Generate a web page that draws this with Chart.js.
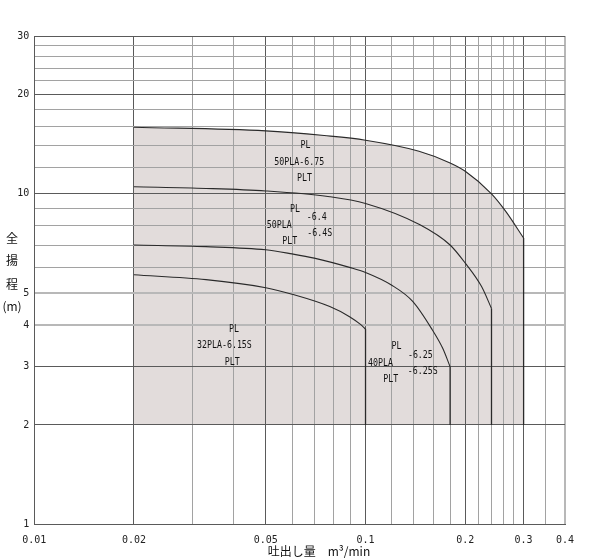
<!DOCTYPE html>
<html>
<head>
<meta charset="utf-8">
<script src="https://cdn.jsdelivr.net/npm/chart.js@4.4.1/dist/chart.umd.min.js"></script>
<style>
  html, body { margin:0; background:#fff; }
  canvas { display:block; }
</style>
</head>
<body>
<canvas id="chart" width="600" height="560"></canvas>
<script>
// grid / tick values (log-log)
const xGrid = [0.01, 0.02, 0.03, 0.04, 0.05, 0.06, 0.07, 0.08, 0.09, 0.1, 0.12, 0.14, 0.16, 0.18, 0.2, 0.22, 0.24, 0.26, 0.28, 0.3, 0.35, 0.4];
const xLabels = [0.01, 0.02, 0.05, 0.1, 0.2, 0.3, 0.4];
const xMajor = [0.02, 0.05, 0.1, 0.2, 0.3];
const yGrid = [1, 2, 3, 4, 5, 6, 7, 8, 9, 10, 12, 14, 16, 18, 20, 22, 24, 26, 28, 30];
const yLabels = [1, 2, 3, 4, 5, 10, 20, 30];
const yMajor = [2, 3, 10, 20, 30];
const yAccent = [4, 5];

// pump curves: flow (m3/min) / head (m)
const q675 = [0.02, 0.05, 0.075, 0.1, 0.145, 0.18, 0.2, 0.24, 0.265, 0.3];
const h675 = [15.9, 15.5, 15.0, 14.52, 13.45, 12.4, 11.7, 10.0, 8.85, 7.35];
const q64 = [0.02, 0.033, 0.05, 0.078, 0.1, 0.146, 0.18, 0.2, 0.224, 0.24];
const h64 = [10.5, 10.38, 10.2, 9.8, 9.35, 8.06, 7.0, 6.17, 5.24, 4.5];
const q625 = [0.02, 0.033, 0.05, 0.06, 0.07, 0.09, 0.1, 0.12, 0.139, 0.159, 0.171, 0.18];
const h625 = [7.0, 6.92, 6.77, 6.58, 6.39, 5.98, 5.78, 5.29, 4.72, 3.88, 3.41, 3.0];
const q615 = [0.02, 0.033, 0.05, 0.06, 0.078, 0.0895, 0.0968, 0.1];
const h615 = [5.69, 5.5, 5.2, 4.97, 4.56, 4.25, 4.02, 3.9];
const baseHead = 2;

// model labels [text, flow, head]
const notes = [
  ['PL', 0.0659, 14.0], ['50PLA-6.75', 0.0631, 12.47], ['PLT', 0.0654, 11.15],
  ['PL', 0.0613, 8.99], ['-6.4', 0.0712, 8.48], ['50PLA', 0.0549, 8.04], ['-6.4S', 0.0727, 7.61], ['PLT', 0.0591, 7.21],
  ['PL', 0.0401, 3.9], ['32PLA-6.15S', 0.0375, 3.48], ['PLT', 0.0396, 3.1],
  ['PL', 0.1241, 3.45], ['-6.25', 0.1464, 3.26], ['40PLA', 0.1109, 3.07], ['-6.25S', 0.1489, 2.9], ['PLT', 0.1192, 2.75]
];

const pts = (qs, hs) => qs.map((q, i) => ({ x: q, y: hs[i] }));
const drop = (qs, hs) => [{ x: qs[qs.length-1], y: hs[hs.length-1] }, { x: qs[qs.length-1], y: baseHead }];

const curve = (data, extra) => Object.assign({ data, borderColor:'#2a2a2a', borderWidth:1.1, pointRadius:0, cubicInterpolationMode:'monotone', fill:false }, extra||{});
const vline = data => ({ data, borderColor:'#2a2a2a', borderWidth:1.3, pointRadius:0, tension:0, fill:false });

const labelPlugin = {
  id: 'labels',
  afterDatasetsDraw(chart){
    const { ctx, scales:{x, y} } = chart;
    ctx.save();
    ctx.fillStyle = '#111';
    ctx.font = '10.5px "DejaVu Sans Mono"';
    ctx.textAlign = 'center'; ctx.textBaseline = 'middle';
    notes.forEach(([t, q, h]) => {
      ctx.save();
      ctx.translate(x.getPixelForValue(q), y.getPixelForValue(h));
      ctx.scale(0.79, 1);
      ctx.fillText(t, 0, 0);
      ctx.restore();
    });
    ctx.restore();
  },
  afterDraw(chart){
    const { ctx } = chart;
    ctx.save();
    ctx.fillStyle = '#111';
    ctx.textAlign = 'center'; ctx.textBaseline = 'middle';
    ctx.font = '12px "Noto Sans CJK JP"';
    ctx.fillText('吐出し量　m³/min', 319, 551);
    ['全', '揚', '程', '(m)'].forEach((c, i) => ctx.fillText(c, 12, [238, 260, 284, 306][i]));
    ctx.restore();
  }
};

const gridStyle = (major, accent, edge) => ({
  drawTicks: false,
  color: c => { const v = c.tick && c.tick.value; return accent.includes(v) || v === edge ? '#b8b8b8' : major.includes(v) ? '#5a5a5a' : '#a2a2a2'; },
  lineWidth: c => { const v = c.tick && c.tick.value; return accent.includes(v) || v === edge ? 2 : 1; }
});

new Chart(document.getElementById('chart'), {
  type: 'line',
  data: {
    datasets: [
      curve(pts(q675, h675), { fill: { value: baseHead }, backgroundColor: '#e2dcdb' }),
      vline(drop(q675, h675)),
      curve(pts(q64, h64)), vline(drop(q64, h64)),
      curve(pts(q625, h625)), vline(drop(q625, h625)),
      curve(pts(q615, h615)), vline(drop(q615, h615))
    ]
  },
  options: {
    responsive: false, animation: false, devicePixelRatio: 1,
    layout: { padding: { left: 0, right: 35, top: 36, bottom: 0 } },
    plugins: { legend: { display: false }, tooltip: { enabled: false }, filler: { drawTime: 'beforeDraw' } },
    scales: {
      x: {
        type: 'logarithmic', min: 0.01, max: 0.4,
        afterBuildTicks: s => { s.ticks = xGrid.map(v => ({ value: v })); },
        afterFit: s => { s.height = 35.5; },
        ticks: { autoSkip: false, maxRotation: 0, padding: 10, color: '#222', font: { family: 'DejaVu Sans Mono', size: 10 },
          callback: v => xLabels.includes(v) ? String(v) : '' },
        grid: gridStyle(xMajor, [], 0.4),
        border: { color: '#5a5a5a' }
      },
      y: {
        type: 'logarithmic', min: 1, max: 30,
        afterBuildTicks: s => { s.ticks = yGrid.map(v => ({ value: v })); },
        afterFit: s => { s.width = 34.2; },
        ticks: { autoSkip: false, padding: 5, color: '#222', font: { family: 'DejaVu Sans Mono', size: 10 },
          callback: v => yLabels.includes(v) ? String(v) : '' },
        grid: gridStyle(yMajor, yAccent, null),
        border: { color: '#5a5a5a' }
      }
    }
  },
  plugins: [labelPlugin]
});
</script>
</body>
</html>
